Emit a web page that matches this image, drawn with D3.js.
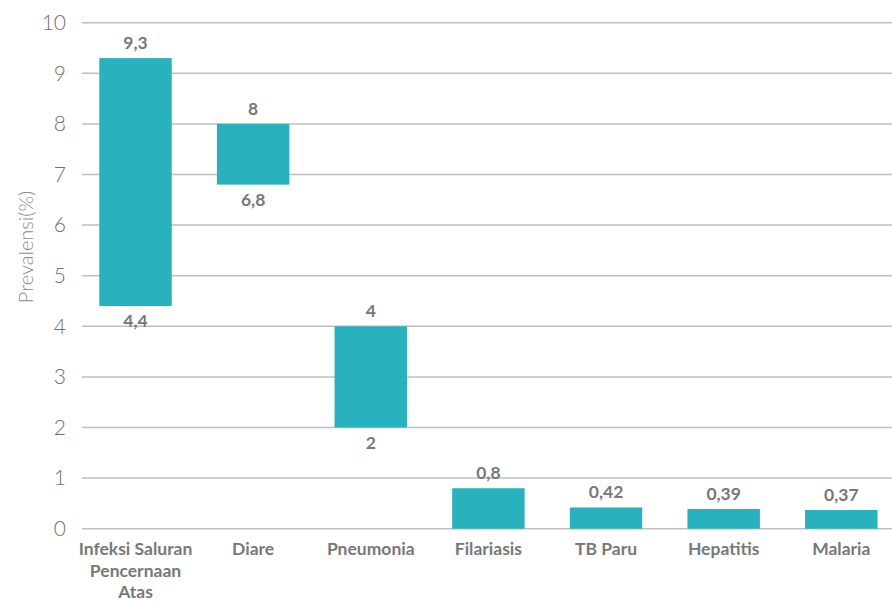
<!DOCTYPE html>
<html>
<head>
<meta charset="utf-8">
<script src="https://cdn.jsdelivr.net/npm/d3@7"></script>
<style>
  html, body { margin: 0; padding: 0; background: #fff; }
  svg { display: block; }
</style>
</head>
<body>
<svg id="chart" width="892" height="603"></svg>
<script>
// Prevalence ranges per disease (low–high, in %)
const categories = [
  "Infeksi Saluran\nPencernaan\nAtas",
  "Diare",
  "Pneumonia",
  "Filariasis",
  "TB Paru",
  "Hepatitis",
  "Malaria"
];
const lowValues  = [4.4, 6.8, 2, 0, 0, 0, 0];
const highValues = [9.3, 8, 4, 0.8, 0.42, 0.39, 0.37];
const yTicks = [0, 1, 2, 3, 4, 5, 6, 7, 8, 9, 10];
const yTitle = "Prevalensi(%)";

const data = categories.map((c, i) => ({ cat: c, low: lowValues[i], high: highValues[i] }));

const svg = d3.select("#chart");
const fmt = v => String(v).replace(".", ",");
const font = "Lato, 'DejaVu Sans', sans-serif";

const gridLeft = 82, gridRight = 892;

const y = d3.scaleLinear().domain([0, 10]).range([528.7, 22.7]);
const x = d3.scaleBand()
  .domain(categories)
  .range([76.7, 900.1])
  .paddingInner(0.384)
  .paddingOuter(0.192);

// horizontal gridlines
svg.append("g")
  .selectAll("line")
  .data(yTicks)
  .join("line")
  .attr("x1", gridLeft)
  .attr("x2", gridRight)
  .attr("y1", d => y(d))
  .attr("y2", d => y(d))
  .attr("stroke", "#bfbfbf")
  .attr("stroke-width", 1.5);

// y tick labels
const yAxis = d3.axisLeft(y).tickValues(yTicks).tickSize(0).tickPadding(0).tickFormat(d => d);
const yG = svg.append("g").attr("transform", "translate(66,0)").call(yAxis);
yG.select(".domain").remove();
yG.selectAll("text")
  .attr("font-family", font)
  .attr("font-size", 21)
  .attr("font-weight", 300)
  .attr("fill", "#6f6f6f");

// axis title
svg.append("text")
  .attr("transform", "translate(33,247) rotate(-90)")
  .attr("text-anchor", "middle")
  .attr("font-family", font)
  .attr("font-size", 20)
  .attr("font-weight", 300)
  .attr("fill", "#8a8a8a")
  .text(yTitle);

// range bars
svg.append("g")
  .selectAll("rect")
  .data(data)
  .join("rect")
  .attr("x", d => x(d.cat))
  .attr("width", x.bandwidth())
  .attr("y", d => y(d.high))
  .attr("height", d => y(d.low) - y(d.high))
  .attr("fill", "#29b1bd");

// high value labels
svg.append("g")
  .selectAll("text")
  .data(data)
  .join("text")
  .attr("x", d => x(d.cat) + x.bandwidth() / 2)
  .attr("y", d => y(d.high) - 9)
  .attr("text-anchor", "middle")
  .attr("font-family", font)
  .attr("font-size", 17.5)
  .attr("font-weight", 700)
  .attr("fill", "#787878")
  .text(d => fmt(d.high));

// low value labels (floating bars only)
svg.append("g")
  .selectAll("text")
  .data(data.filter(d => d.low > 0))
  .join("text")
  .attr("x", d => x(d.cat) + x.bandwidth() / 2)
  .attr("y", d => y(d.low) + 21)
  .attr("text-anchor", "middle")
  .attr("font-family", font)
  .attr("font-size", 17.5)
  .attr("font-weight", 700)
  .attr("fill", "#787878")
  .text(d => fmt(d.low));

// category labels
const catG = svg.append("g")
  .selectAll("text")
  .data(categories)
  .join("text")
  .attr("x", d => x(d) + x.bandwidth() / 2)
  .attr("y", 555)
  .attr("text-anchor", "middle")
  .attr("font-family", font)
  .attr("font-size", 17.5)
  .attr("font-weight", 700)
  .attr("fill", "#787878");
catG.each(function(d) {
  const t = d3.select(this);
  d.split("\n").forEach((line, i) => {
    t.append("tspan")
      .attr("x", t.attr("x"))
      .attr("dy", i === 0 ? 0 : 21.5)
      .text(line);
  });
});
</script>
</body>
</html>
